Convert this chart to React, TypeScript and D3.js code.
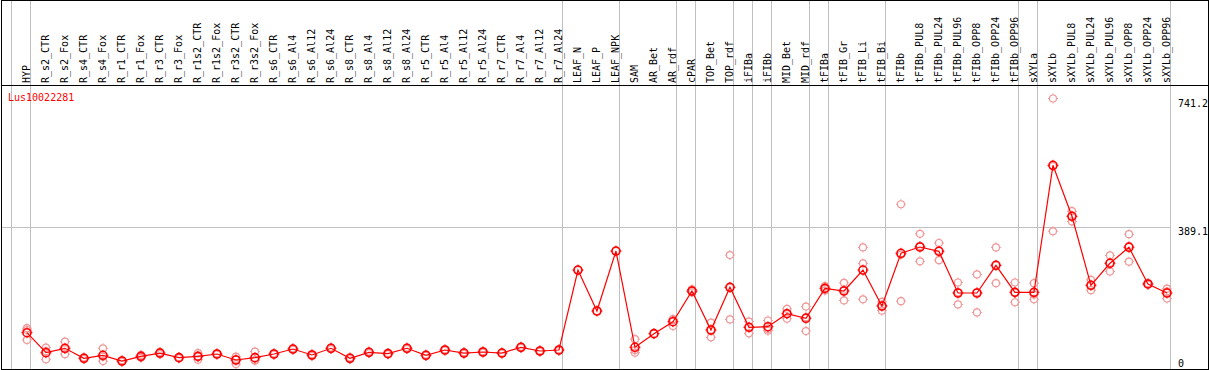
import { useEffect, useRef } from "react";
import * as d3 from "d3";

// ----- Data -----------------------------------------------------------------
const geneId = "Lus10022281";

const categories = [
  "HYP", "R_s2_CTR", "R_s2_Fox", "R_s4_CTR", "R_s4_Fox", "R_r1_CTR", "R_r1_Fox",
  "R_r3_CTR", "R_r3_Fox", "R_r1s2_CTR", "R_r1s2_Fox", "R_r3s2_CTR", "R_r3s2_Fox",
  "R_s6_CTR", "R_s6_Al4", "R_s6_Al12", "R_s6_Al24", "R_s8_CTR", "R_s8_Al4",
  "R_s8_Al12", "R_s8_Al24", "R_r5_CTR", "R_r5_Al4", "R_r5_Al12", "R_r5_Al24",
  "R_r7_CTR", "R_r7_Al4", "R_r7_Al12", "R_r7_Al24", "LEAF_N", "LEAF_P", "LEAF_NPK",
  "SAM", "AR_Bet", "AR_rdf", "cPAR", "TOP_Bet", "TOP_rdf", "iFIBa", "iFIBb",
  "MID_Bet", "MID_rdf", "tFIBa", "tFIB_Gr", "tFIB_Li", "tFIB_Bi", "tFIBb",
  "tFIBb_PUL8", "tFIBb_PUL24", "tFIBb_PUL96", "tFIBb_OPP8", "tFIBb_OPP24",
  "tFIBb_OPP96", "sXYLa", "sXYLb", "sXYLb_PUL8", "sXYLb_PUL24", "sXYLb_PUL96",
  "sXYLb_OPP8", "sXYLb_OPP24", "sXYLb_OPP96",
];

// first category of every sample group (plus the end)
const groupBreaks = [0, 1, 29, 32, 35, 36, 38, 39, 40, 42, 43, 46, 53, 54, 61];

const meanValues = [
  100.7, 46, 58, 30.6, 38.8, 23.2, 36, 45, 32.4, 36, 42.4, 26, 32.4, 42.4, 56,
  39.7, 58, 30.6, 47, 43.3, 58, 38.8, 53.3, 45, 47.9, 45, 60.7, 50.6, 53.3,
  272, 160, 324, 60.7, 98, 130.7, 214.7, 108, 224.8, 115.4, 117, 152.6, 140,
  222, 214.7, 272, 173.7, 317.8, 335, 323.3, 209.2, 209.2, 285, 211, 211,
  558.5, 419, 230.3, 290.5, 334.2, 233.9, 209.2,
];

const replicateValues = [
  [113, 108, 81], [60, 50, 28], [76, 56, 42], [33, 30, 29], [58, 35, 23],
  [25, 23, 21], [40, 36, 32], [48, 45, 42], [34, 32, 31], [45, 36, 27],
  [44, 42, 41], [35, 28, 15], [49, 26, 24], [44, 42, 41], [58, 56, 54],
  [42, 40, 37], [60, 58, 56], [33, 31, 28], [49, 47, 45], [45, 43, 42],
  [60, 58, 56], [41, 39, 37], [55, 53, 52], [47, 45, 43], [50, 48, 46],
  [46, 45, 44], [62, 61, 59], [52, 51, 49], [55, 53, 52],
  [272], [160], [324], [83, 53, 46], [98], [135, 138, 119], [219, 214, 211],
  [128, 108, 88], [313, 224, 137], [131, 116, 99], [134, 111, 106],
  [166, 153, 139], [172, 143, 105], [228, 222, 216], [237, 218, 189],
  [334, 290, 192], [185, 175, 161], [452, 314, 187], [371, 338, 296],
  [346, 325, 299], [238, 211, 178], [260, 211, 156], [334, 285, 236],
  [238, 211, 184], [236, 205, 192], [741.2, 556, 378], [433, 419, 405],
  [245, 230, 217], [312, 292, 268], [370, 338, 295], [236, 234, 232],
  [221, 213, 194],
];

const yTicks = [0, 389.1, 741.2];

// ----- Chart ------------------------------------------------------------------
const W = 1209;
const H = 370;
const FONT = "'DejaVu Sans Mono', monospace";

const ExpressionChart = () => {
  const svgRef = useRef<SVGSVGElement | null>(null);

  useEffect(() => {
    const svg = d3.select(svgRef.current);
    svg.selectAll("*").remove();

    const plotLeft = 11;
    const plotRight = 1170;
    const headerBottom = 85;
    const plotBottom = 369;

    const x = d3
      .scaleBand<string>()
      .domain(categories)
      .range([plotLeft, plotRight])
      .padding(0);
    const bw = x.bandwidth();
    const cx = (i: number) => (x(categories[i]) as number) + bw * 0.84;

    const y = d3.scaleLinear().domain([0, 741.2]).range([369.5, 98.5]);

    svg.append("rect").attr("width", W).attr("height", H).attr("fill", "#fff");

    // grey group separators
    const edge = d3.scaleLinear().domain([0, categories.length]).range([plotLeft, plotRight]);
    svg
      .append("g")
      .selectAll("line")
      .data(groupBreaks)
      .join("line")
      .attr("x1", (d) => Math.round(edge(d)) + 0.5)
      .attr("x2", (d) => Math.round(edge(d)) + 0.5)
      .attr("y1", 0)
      .attr("y2", plotBottom)
      .attr("stroke", "#c0c0c0")
      .attr("shape-rendering", "crispEdges");

    // horizontal guide at middle tick
    svg
      .append("line")
      .attr("x1", 1)
      .attr("x2", plotRight)
      .attr("y1", Math.round(y(yTicks[1])) + 0.5)
      .attr("y2", Math.round(y(yTicks[1])) + 0.5)
      .attr("stroke", "#c0c0c0")
      .attr("shape-rendering", "crispEdges");

    // frame + header separator
    svg
      .append("rect")
      .attr("x", 1.5)
      .attr("y", 0.5)
      .attr("width", W - 2.5)
      .attr("height", plotBottom)
      .attr("fill", "none")
      .attr("stroke", "#000")
      .attr("shape-rendering", "crispEdges");
    svg
      .append("line")
      .attr("x1", 1)
      .attr("x2", W - 1)
      .attr("y1", headerBottom + 0.5)
      .attr("y2", headerBottom + 0.5)
      .attr("stroke", "#000")
      .attr("shape-rendering", "crispEdges");

    // rotated sample labels
    svg
      .append("g")
      .selectAll("text")
      .data(categories)
      .join("text")
      .attr("transform", (d) => `translate(${(x(d) as number) + 18.5},83) rotate(-90)`)
      .attr("font-family", FONT)
      .attr("font-size", 10)
      .attr("fill", "#000")
      .text((d) => d);

    // gene id
    svg
      .append("text")
      .attr("x", 8)
      .attr("y", 101)
      .attr("font-family", FONT)
      .attr("font-size", 10)
      .attr("fill", "#ff0000")
      .text(geneId);

    // y tick labels
    const tickDy = [-3, 8, 8];
    svg
      .append("g")
      .selectAll("text")
      .data(yTicks)
      .join("text")
      .attr("x", 1178)
      .attr("y", (d, i) => y(d) + tickDy[i])
      .attr("font-family", FONT)
      .attr("font-size", 10)
      .attr("fill", "#000")
      .text((d) => String(d));

    // replicate markers
    const reps = replicateValues.flatMap((vals, i) => vals.map((v) => ({ i, v })));
    const repG = svg.append("g");
    reps.forEach((d) => {
      const px = cx(d.i);
      const py = y(d.v);
      repG
        .append("circle")
        .attr("cx", px)
        .attr("cy", py)
        .attr("r", 3.5)
        .attr("fill", "none")
        .attr("stroke", "#f09898")
        .attr("stroke-width", 1.2);
      [[0, -1], [0, 1], [-1, 0], [1, 0]].forEach(([dx, dy]) =>
        repG
          .append("line")
          .attr("x1", px + dx * 3.5)
          .attr("y1", py + dy * 3.5)
          .attr("x2", px + dx * 5)
          .attr("y2", py + dy * 5)
          .attr("stroke", "#f09898")
          .attr("stroke-width", 1),
      );
    });

    // mean line
    const line = d3
      .line<number>()
      .x((_, i) => cx(i))
      .y((d) => y(d));
    svg
      .append("path")
      .datum(meanValues)
      .attr("fill", "none")
      .attr("stroke", "#ff0000")
      .attr("stroke-width", 1.2)
      .attr("d", line);

    // mean markers
    const meanG = svg.append("g");
    meanValues.forEach((v, i) => {
      const px = cx(i);
      const py = y(v);
      meanG
        .append("circle")
        .attr("cx", px)
        .attr("cy", py)
        .attr("r", 4)
        .attr("fill", "none")
        .attr("stroke", "#ff0000")
        .attr("stroke-width", 1.6);
      [[0, -1], [0, 1], [-1, 0], [1, 0]].forEach(([dx, dy]) =>
        meanG
          .append("line")
          .attr("x1", px + dx * 4)
          .attr("y1", py + dy * 4)
          .attr("x2", px + dx * 5.5)
          .attr("y2", py + dy * 5.5)
          .attr("stroke", "#ff0000")
          .attr("stroke-width", 1),
      );
    });
  }, []);

  return (
    <svg
      ref={svgRef}
      width={W}
      height={H}
      style={{ position: "absolute", left: 0, top: 0, display: "block" }}
    />
  );
};

export default function App() {
  return <ExpressionChart />;
}
